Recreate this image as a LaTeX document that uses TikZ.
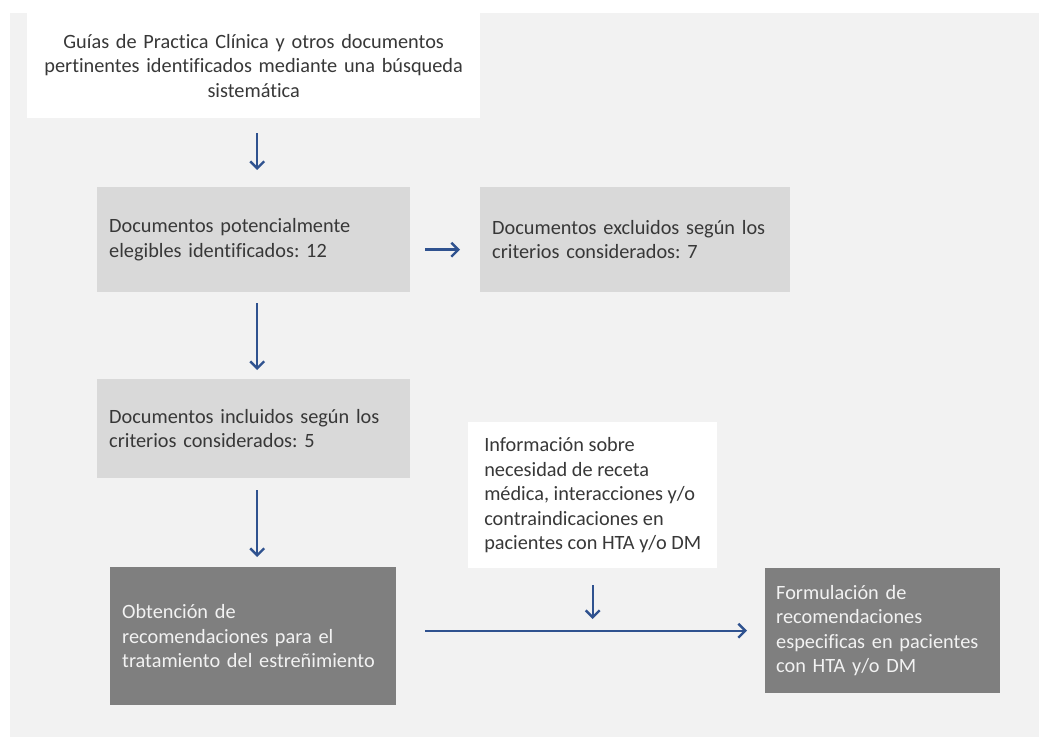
\documentclass[tikz,border=0pt]{standalone}
\usepackage{fontspec}
\setmainfont[Ligatures=NoCommon]{Carlito}
\usetikzlibrary{arrows.meta}
\definecolor{bgc}{HTML}{F2F2F2}
\definecolor{lightc}{HTML}{D9D9D9}
\definecolor{darkc}{HTML}{7F7F7F}
\definecolor{txtc}{HTML}{383838}
\definecolor{arrc}{RGB}{47,82,143}
\tikzset{
  box/.style={rectangle, inner sep=0pt, font=\fontsize{20.3}{24.5}\selectfont, align=left, anchor=north west},
  lightbox/.style={box, fill=lightc, text=txtc},
  darkbox/.style={box, fill=darkc, text=bgc},
  whitebox/.style={box, fill=white, text=txtc},
  flow/.style={draw=arrc, line width=2.4pt, -{Straight Barb[length=7pt,width=14pt,line width=2.4pt]}}
}
\frenchspacing
\begin{document}
\begin{tikzpicture}[x=1pt,y=-1pt]
\useasboundingbox (0,0) rectangle (1039,738);
\fill[bgc] (10,13) rectangle (1039,737);
\node[whitebox, align=center, minimum width=453pt, minimum height=105pt, text width=445pt] (top) at (27,13) {Guías de Practica Clínica y otros documentos\\pertinentes identificados mediante una búsqueda\\sistemática};
\node[lightbox, minimum width=313pt, minimum height=105pt, text width=289pt] (pot) at (97,187) {Documentos potencialmente\\elegibles identificados: 12};
\node[lightbox, minimum width=310pt, minimum height=105pt, text width=286pt] (exc) at (480,187) {Documentos excluidos según los\\criterios considerados: 7};
\node[lightbox, minimum width=313pt, minimum height=99pt, text width=289pt] (inc) at (97,379) {Documentos incluidos según los\\criterios considerados: 5};
\node[darkbox, minimum width=286pt, minimum height=138pt, text width=262pt] (obt) at (110,567) {Obtención de\\recomendaciones para el\\tratamiento del estreñimiento};
\node[whitebox, minimum width=249pt, minimum height=146pt] (info) at (468,422) {Información sobre\\necesidad de receta\\médica, interacciones y/o\\contraindicaciones en\\pacientes con HTA y/o DM};
\node[darkbox, minimum width=235pt, minimum height=125pt, text width=213pt] (form) at (765,568) {Formulación de\\recomendaciones\\especificas en pacientes\\con HTA y/o DM};
\coordinate (join) at (info.south |- 0,630);
\draw[flow, shorten <=15pt, shorten >=17pt] ([xshift=3.5pt]top.south) -- ([xshift=3.5pt]pot.north);
\draw[flow, shorten <=15pt, shorten >=20pt] ([yshift=-10pt]pot.east) -- ([yshift=-10pt]exc.west);
\draw[flow, shorten <=11pt, shorten >=9pt] ([xshift=3.5pt]pot.south) -- ([xshift=3.5pt]inc.north);
\draw[flow, shorten <=12pt, shorten >=10pt] ([xshift=3.5pt]inc.south) -- ([xshift=3.5pt]inc.south |- obt.north);
\draw[flow, shorten <=17pt, shorten >=11pt] (info.south) -- (join);
\draw[flow, shorten <=29pt, shorten >=18pt] (obt.east |- form.west) -- (form.west);
\end{tikzpicture}
\end{document}
